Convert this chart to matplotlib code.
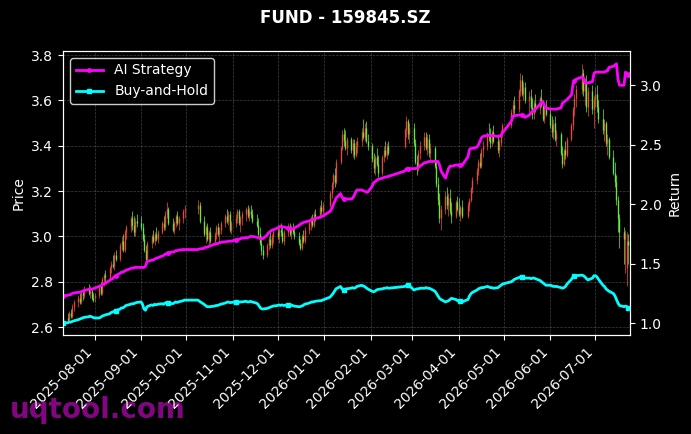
import matplotlib
matplotlib.use('Agg')
import matplotlib.pyplot as plt
import matplotlib.dates as mdates
import pandas as pd
import numpy as np

title = 'FUND - 159845.SZ'
start_date = '2025-07-11'
end_date = '2026-07-24'
holidays = ['2025-10-01', '2025-10-02', '2025-10-03', '2025-10-06', '2025-10-07', '2025-10-08',
            '2026-01-01', '2026-01-02',
            '2026-02-16', '2026-02-17', '2026-02-18', '2026-02-19', '2026-02-20', '2026-02-23',
            '2026-04-06', '2026-05-01', '2026-05-04', '2026-05-05', '2026-06-19']

opens = [
    2.62,2.64,2.63,2.66,2.65,2.69,2.71,2.73,2.71,2.75,2.74,2.77,2.75,2.76,2.73,
    2.73,2.74,2.78,2.75,2.81,2.83,2.82,2.86,2.88,2.87,2.92,2.90,2.96,2.98,2.94,3.02,3.04,3.08,3.05,3.02,3.07,
    3.06,3.04,2.99,2.94,2.90,2.97,3.00,2.98,3.01,2.99,3.02,3.06,3.04,3.10,3.12,3.06,3.03,3.06,3.09,3.06,3.08,3.11,
    3.12,3.14,3.07,3.01,3.04,2.99,3.02,2.98,3.01,3.04,3.01,3.03,3.06,3.09,3.07,3.10,3.03,
    3.06,3.08,3.11,3.06,3.08,3.10,3.12,3.09,3.11,3.10,3.07,3.05,3.01,2.97,2.94,2.92,2.96,2.99,2.96,3.00,
    3.02,3.00,3.03,3.02,2.98,3.02,3.04,3.01,3.04,3.02,3.00,2.97,2.95,3.00,2.98,3.03,3.06,3.08,3.05,3.10,3.09,3.13,3.11,
    3.14,3.19,3.23,3.27,3.24,3.33,3.39,3.45,3.42,3.39,3.43,3.38,3.41,3.36,3.40,3.42,3.46,3.44,3.48,3.42,
    3.40,3.34,3.30,3.35,3.32,3.28,3.35,3.38,3.36,3.40,3.40,3.47,3.51,3.45,
    3.48,3.41,3.33,3.30,3.37,3.40,3.44,3.39,3.43,3.37,3.39,3.31,3.23,3.16,3.08,3.12,3.18,3.14,3.17,3.11,3.09,3.15,
    3.12,3.10,3.13,3.09,3.14,3.16,3.21,3.25,3.29,3.33,3.31,3.38,3.40,3.45,3.44,3.41,3.46,3.42,3.38,3.41,3.46,
    3.49,3.55,3.58,3.56,3.64,3.69,3.63,3.66,3.60,3.62,3.57,3.54,3.59,3.56,3.61,3.58,3.52,3.57,
    3.54,3.49,3.46,3.50,3.43,3.45,3.37,3.32,3.38,3.36,3.43,3.49,3.56,3.61,3.65,3.72,3.64,3.68,3.57,3.64,3.56,
    3.60,3.63,3.57,3.52,3.47,3.50,3.41,3.43,3.35,3.28,3.24,3.16,3.08,3.02,2.99,2.86,2.98,2.96,
]
highs = [
    2.65,2.66,2.67,2.68,2.70,2.72,2.74,2.75,2.76,2.77,2.78,2.79,2.78,2.77,2.75,
    2.75,2.79,2.80,2.82,2.84,2.85,2.87,2.89,2.92,2.93,2.94,2.97,3.00,3.01,3.03,3.05,3.09,3.11,3.09,3.08,3.10,
    3.09,3.06,3.01,2.96,2.98,3.01,3.03,3.02,3.04,3.03,3.07,3.09,3.11,3.15,3.13,3.08,3.07,3.10,3.11,3.09,3.12,3.14,
    3.16,3.15,3.09,3.05,3.06,3.03,3.04,3.02,3.05,3.06,3.04,3.07,3.10,3.12,3.11,3.11,3.07,
    3.10,3.12,3.12,3.09,3.11,3.13,3.14,3.13,3.14,3.12,3.10,3.08,3.04,3.00,2.96,2.97,3.00,3.02,3.01,3.03,
    3.05,3.04,3.06,3.05,3.03,3.06,3.06,3.05,3.06,3.04,3.02,2.99,3.01,3.03,3.04,3.07,3.09,3.10,3.11,3.12,3.14,3.16,3.15,
    3.20,3.24,3.28,3.30,3.34,3.40,3.47,3.48,3.47,3.44,3.44,3.43,3.43,3.42,3.44,3.48,3.52,3.50,3.51,3.45,
    3.41,3.37,3.36,3.39,3.36,3.36,3.40,3.42,3.41,3.42,3.48,3.53,3.52,3.50,
    3.50,3.43,3.36,3.38,3.42,3.46,3.46,3.45,3.45,3.41,3.40,3.33,3.26,3.19,3.14,3.20,3.22,3.19,3.21,3.15,3.16,3.18,
    3.17,3.14,3.16,3.15,3.17,3.22,3.26,3.30,3.34,3.37,3.39,3.42,3.46,3.50,3.48,3.47,3.49,3.45,3.43,3.47,3.50,
    3.56,3.60,3.62,3.65,3.72,3.71,3.68,3.68,3.64,3.65,3.61,3.60,3.63,3.62,3.65,3.60,3.58,3.60,
    3.57,3.53,3.52,3.53,3.47,3.46,3.40,3.39,3.42,3.44,3.50,3.57,3.63,3.67,3.76,3.74,3.70,3.71,3.66,3.67,3.62,
    3.66,3.67,3.60,3.56,3.52,3.51,3.45,3.44,3.38,3.33,3.27,3.18,3.10,3.04,3.03,3.02,3.01,3.00,
]
lows = [
    2.61,2.62,2.62,2.64,2.64,2.67,2.69,2.70,2.70,2.72,2.73,2.74,2.73,2.72,2.71,
    2.71,2.73,2.74,2.74,2.78,2.80,2.81,2.84,2.86,2.85,2.89,2.89,2.94,2.93,2.93,2.99,3.02,3.03,3.00,3.00,3.04,
    3.03,2.98,2.93,2.88,2.89,2.95,2.97,2.96,2.98,2.97,3.01,3.03,3.03,3.08,3.05,3.02,3.01,3.04,3.05,3.03,3.06,3.08,
    3.10,3.06,3.00,2.97,2.98,2.96,2.97,2.96,2.99,3.00,2.97,3.01,3.04,3.06,3.05,3.02,3.01,
    3.04,3.06,3.05,3.02,3.05,3.07,3.08,3.07,3.08,3.06,3.04,3.00,2.96,2.92,2.90,2.91,2.94,2.95,2.95,2.97,
    2.99,2.97,3.00,2.97,2.96,3.00,3.00,2.99,3.01,2.99,2.96,2.94,2.94,2.97,2.97,3.01,3.03,3.04,3.04,3.07,3.08,3.10,3.09,
    3.13,3.17,3.21,3.22,3.23,3.32,3.38,3.40,3.38,3.36,3.37,3.35,3.34,3.35,3.37,3.40,3.43,3.42,3.41,3.38,
    3.33,3.28,3.27,3.31,3.26,3.27,3.33,3.35,3.34,3.36,3.39,3.44,3.43,3.41,
    3.40,3.32,3.27,3.29,3.34,3.38,3.38,3.36,3.35,3.33,3.30,3.22,3.14,3.06,3.03,3.10,3.12,3.09,3.10,3.06,3.08,3.11,
    3.09,3.07,3.08,3.08,3.11,3.15,3.19,3.23,3.27,3.30,3.30,3.35,3.38,3.42,3.39,3.40,3.41,3.37,3.35,3.40,3.44,
    3.48,3.53,3.54,3.55,3.62,3.62,3.60,3.59,3.55,3.56,3.52,3.52,3.55,3.54,3.57,3.51,3.50,3.53,
    3.48,3.44,3.43,3.42,3.40,3.36,3.30,3.31,3.34,3.35,3.42,3.47,3.53,3.57,3.63,3.62,3.58,3.55,3.53,3.54,3.48,
    3.57,3.55,3.50,3.45,3.42,3.40,3.36,3.34,3.27,3.22,3.14,3.02,2.95,2.88,2.84,2.78,2.88,2.90,
]
closes = [
    2.64,2.63,2.66,2.65,2.69,2.71,2.73,2.71,2.75,2.74,2.77,2.75,2.76,2.73,2.72,
    2.74,2.78,2.75,2.81,2.83,2.82,2.86,2.88,2.87,2.92,2.90,2.96,2.98,2.94,3.02,3.04,3.08,3.05,3.02,3.07,3.06,
    3.04,2.99,2.94,2.90,2.97,3.00,2.98,3.01,2.99,3.02,3.06,3.04,3.10,3.12,3.06,3.03,3.06,3.09,3.06,3.08,3.11,3.12,
    3.14,3.07,3.01,3.04,2.99,3.02,2.98,3.01,3.04,3.01,3.03,3.06,3.09,3.07,3.10,3.03,3.06,
    3.08,3.11,3.06,3.08,3.10,3.12,3.09,3.11,3.10,3.07,3.05,3.01,2.97,2.94,2.92,2.96,2.99,2.96,3.00,3.02,
    3.00,3.03,3.02,2.98,3.02,3.04,3.01,3.04,3.02,3.00,2.97,2.95,3.00,2.98,3.03,3.06,3.08,3.05,3.10,3.09,3.13,3.11,3.14,
    3.19,3.23,3.27,3.24,3.33,3.39,3.45,3.42,3.39,3.43,3.38,3.41,3.36,3.40,3.42,3.46,3.44,3.48,3.42,3.40,
    3.34,3.30,3.35,3.32,3.28,3.35,3.38,3.36,3.40,3.37,3.47,3.51,3.45,3.48,
    3.41,3.33,3.30,3.37,3.40,3.44,3.39,3.43,3.37,3.39,3.31,3.23,3.16,3.08,3.12,3.18,3.14,3.17,3.11,3.09,3.15,3.12,
    3.10,3.13,3.09,3.14,3.16,3.21,3.25,3.29,3.33,3.31,3.38,3.40,3.45,3.44,3.41,3.46,3.42,3.38,3.41,3.46,3.49,
    3.55,3.58,3.56,3.64,3.69,3.63,3.66,3.60,3.62,3.57,3.54,3.59,3.56,3.61,3.58,3.52,3.57,3.54,
    3.49,3.46,3.50,3.43,3.45,3.37,3.32,3.38,3.36,3.43,3.49,3.56,3.61,3.65,3.72,3.64,3.68,3.57,3.64,3.56,3.60,
    3.63,3.57,3.52,3.47,3.50,3.41,3.43,3.35,3.28,3.24,3.16,3.08,3.02,2.99,3.01,2.98,2.96,2.97,
]
ai_strategy = [
    1.23,1.235,1.24,1.24,1.25,1.255,1.26,1.26,1.265,1.27,1.275,1.285,1.29,1.285,1.29,
    1.295,1.31,1.315,1.32,1.33,1.335,1.36,1.37,1.375,1.39,1.40,1.42,1.43,1.43,1.44,1.445,1.46,1.465,1.465,1.47,1.47,
    1.47,1.47,1.47,1.48,1.52,1.53,1.53,1.54,1.545,1.55,1.565,1.57,1.58,1.585,1.59,1.60,1.60,1.61,1.61,1.615,1.62,1.62,
    1.62,1.625,1.63,1.64,1.64,1.645,1.65,1.665,1.67,1.67,1.675,1.68,1.685,1.685,1.69,1.69,1.69,
    1.70,1.705,1.705,1.71,1.715,1.72,1.72,1.725,1.73,1.73,1.725,1.72,1.715,1.71,1.71,1.74,1.76,1.77,1.78,1.785,
    1.80,1.81,1.815,1.81,1.81,1.80,1.79,1.79,1.79,1.80,1.82,1.83,1.84,1.845,1.85,1.86,1.865,1.87,1.875,1.88,1.89,1.895,1.90,
    1.94,1.96,1.99,2.02,2.05,2.09,2.06,2.045,2.045,2.045,2.045,2.05,2.07,2.10,2.12,2.12,2.115,2.11,2.105,2.10,
    2.15,2.18,2.19,2.20,2.21,2.22,2.225,2.23,2.23,2.235,2.28,2.30,2.30,2.30,
    2.30,2.30,2.305,2.31,2.32,2.35,2.35,2.355,2.36,2.36,2.36,2.36,2.36,2.33,2.28,2.22,2.26,2.30,2.32,2.32,2.33,2.33,
    2.33,2.33,2.325,2.40,2.46,2.47,2.47,2.48,2.50,2.53,2.56,2.57,2.58,2.58,2.575,2.58,2.575,2.57,2.57,2.58,2.60,
    2.70,2.74,2.745,2.75,2.75,2.75,2.75,2.73,2.75,2.77,2.78,2.79,2.80,2.84,2.86,2.86,2.83,2.81,
    2.80,2.80,2.80,2.80,2.80,2.81,2.85,2.86,2.87,2.88,2.92,3.01,3.04,3.05,3.07,3.06,3.02,3.02,3.02,3.03,3.10,
    3.11,3.11,3.11,3.11,3.11,3.12,3.12,3.15,3.16,3.17,3.18,3.05,3.00,3.00,3.11,3.10,3.09,3.10,
]
buy_and_hold = [
    1.00,1.005,1.01,1.01,1.015,1.02,1.03,1.035,1.04,1.045,1.05,1.055,1.06,1.055,1.05,
    1.045,1.045,1.05,1.06,1.065,1.07,1.08,1.09,1.095,1.10,1.105,1.12,1.13,1.13,1.14,1.15,1.16,1.165,1.165,1.17,1.175,
    1.18,1.16,1.12,1.11,1.14,1.155,1.15,1.16,1.155,1.16,1.165,1.16,1.17,1.175,1.17,1.165,1.17,1.18,1.175,1.18,1.19,1.195,
    1.195,1.185,1.16,1.15,1.14,1.14,1.14,1.145,1.15,1.15,1.155,1.16,1.17,1.175,1.18,1.175,1.175,
    1.18,1.18,1.175,1.18,1.18,1.185,1.18,1.18,1.185,1.18,1.17,1.16,1.14,1.125,1.12,1.125,1.13,1.135,1.14,1.145,
    1.15,1.155,1.15,1.155,1.15,1.155,1.15,1.155,1.15,1.145,1.14,1.14,1.145,1.15,1.16,1.17,1.175,1.18,1.18,1.185,1.19,1.19,1.195,
    1.22,1.235,1.25,1.27,1.29,1.31,1.29,1.28,1.285,1.29,1.295,1.30,1.295,1.30,1.31,1.32,1.315,1.31,1.30,1.29,
    1.27,1.265,1.27,1.28,1.285,1.29,1.295,1.295,1.30,1.295,1.31,1.32,1.32,1.315,
    1.28,1.285,1.29,1.29,1.295,1.295,1.30,1.295,1.295,1.29,1.27,1.25,1.23,1.21,1.20,1.18,1.185,1.19,1.20,1.21,1.20,1.19,
    1.19,1.185,1.18,1.20,1.23,1.25,1.26,1.28,1.29,1.295,1.30,1.30,1.31,1.305,1.30,1.30,1.295,1.30,1.31,1.32,1.33,
    1.35,1.36,1.37,1.385,1.39,1.39,1.385,1.38,1.38,1.375,1.38,1.38,1.375,1.36,1.35,1.34,1.33,1.32,
    1.32,1.315,1.31,1.31,1.31,1.30,1.295,1.30,1.31,1.33,1.37,1.39,1.395,1.40,1.405,1.40,1.39,1.375,1.365,1.38,1.40,
    1.40,1.39,1.37,1.32,1.31,1.29,1.28,1.27,1.25,1.23,1.20,1.17,1.15,1.14,1.145,1.14,1.13,1.13,
]

dates = pd.bdate_range(start_date, end_date)
dates = dates[~dates.isin(pd.to_datetime(holidays))]
n = min(len(dates), len(opens), len(highs), len(lows), len(closes), len(ai_strategy), len(buy_and_hold))
dates = dates[:n]
o = np.array(opens[:n]); h = np.array(highs[:n]); l = np.array(lows[:n]); c = np.array(closes[:n])

up_color = '#f04c3a'
down_color = '#6ef03c'
cols = np.where(c >= o, up_color, down_color)

plt.rcParams['font.family'] = ['DejaVu Sans']
fig = plt.figure(figsize=(6.91, 4.34), dpi=100, facecolor='black')
ax1 = fig.add_axes([0.0912, 0.2281, 0.8205, 0.6544])
ax1.set_facecolor('black')

ax1.vlines(dates, l, h, colors=cols, linewidth=0.55, alpha=0.9)
ax1.vlines(dates, np.minimum(o, c), np.maximum(o, c), colors=cols, linewidth=1.0, alpha=0.9)

ax1.set_ylim(2.565, 3.818)
ax1.set_xlim(dates[0], dates[-1])
ax1.set_ylabel('Price', color='white', fontsize=10)
ax1.grid(True, linestyle='--', linewidth=0.5, color='gray', alpha=0.5)
ax1.xaxis.set_major_locator(mdates.MonthLocator(bymonthday=1))
ax1.xaxis.set_major_formatter(mdates.DateFormatter('%Y-%m-%d'))
plt.setp(ax1.get_xticklabels(), rotation=45, ha='right')

ax2 = ax1.twinx()
ax2.plot(dates, ai_strategy[:n], color='magenta', linewidth=2, marker='o', markersize=2.5,
         markevery=25, label='AI Strategy')
ax2.plot(dates, buy_and_hold[:n], color='cyan', linewidth=2, marker='s', markersize=2.5,
         markevery=25, label='Buy-and-Hold')
ax2.set_ylim(0.902, 3.288)
ax2.set_yticks([1.0, 1.5, 2.0, 2.5, 3.0])
ax2.set_ylabel('Return', color='white', fontsize=10)

for ax in (ax1, ax2):
    ax.tick_params(colors='white', labelcolor='white', labelsize=10)
    for sp in ax.spines.values():
        sp.set_color('white')

leg = ax2.legend(loc='upper left', facecolor='black', edgecolor='white', fontsize=10)
for t in leg.get_texts():
    t.set_color('white')

fig.text(0.5, 0.958, title, ha='center', va='center', color='white', fontsize=12, fontweight='bold')
fig.text(0.014, 0.037, 'uqtool.com', ha='left', va='baseline', color='#8a068a',
         fontsize=20, fontweight='bold', alpha=0.95, zorder=-1)

fig.savefig('out.png', dpi=100, facecolor='black')
